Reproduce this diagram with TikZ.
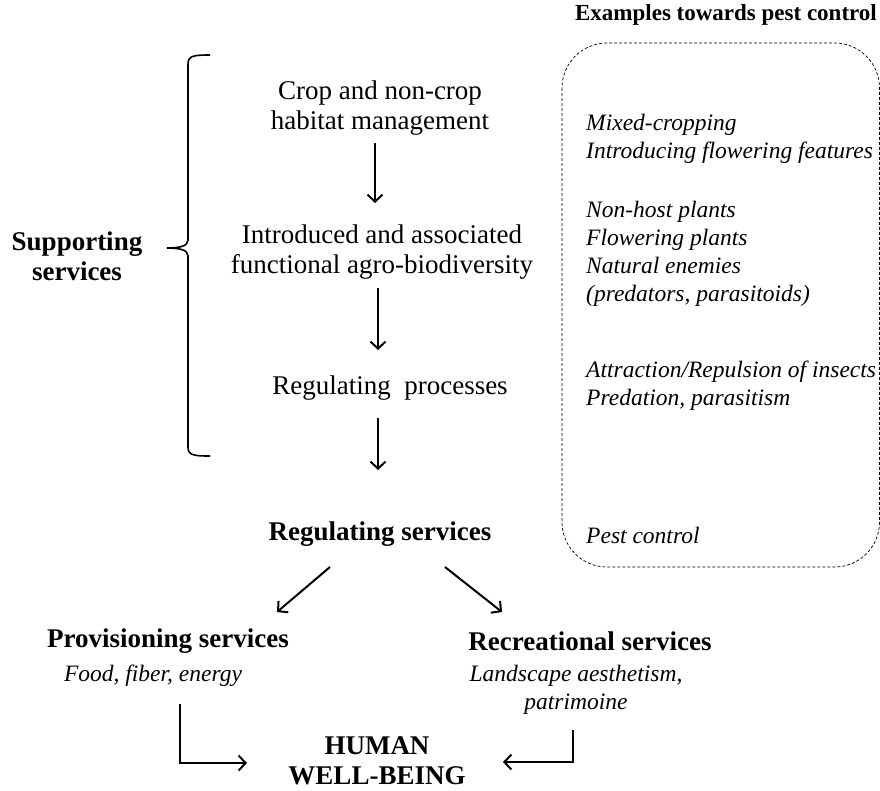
\documentclass[tikz,border=0pt]{standalone}
\usepackage{fontspec}
\setmainfont{Liberation Serif}
\usetikzlibrary{arrows.meta,calc}
\begin{document}
\begin{tikzpicture}[x=1pt,y=-1pt,
  txt/.style={font=\fontsize{27}{30}\selectfont, inner sep=0pt, align=center},
  btxt/.style={font=\fontsize{27}{30}\selectfont\bfseries, inner sep=0pt, align=center},
  htxt/.style={font=\fontsize{23}{28}\selectfont\bfseries, inner sep=0pt, align=center},
  ctxt/.style={font=\fontsize{23.5}{28}\selectfont\itshape, inner sep=0pt, align=center},
  itxt/.style={font=\fontsize{23.5}{28}\selectfont\itshape, inner sep=0pt, align=left, anchor=west},
  arr/.style={line width=2pt, -{Straight Barb[length=7pt,width=15pt,line width=2pt]}},
  bracestyle/.style={line width=1.6pt},
  dashbox/.style={line width=0.7pt, dash pattern=on 3pt off 2pt, rounded corners=45pt}]
\useasboundingbox (0,0) rectangle (880,790);
% center column
\node[txt] (crop) at (380,108) {Crop and non-crop\\habitat management};
\node[txt] (intro) at (382,252) {Introduced and associated\\functional agro-biodiversity};
\node[txt] (regp) at (390,388) {Regulating\hspace{0.25em} processes};
\node[btxt] (regs) at (380,534) {Regulating services};
\node[btxt] (supp) at (77,256) {Supporting\\services};
\node[btxt] (prov) at (168,641) {Provisioning services};
\node[ctxt] (food) at (153,676) {Food, fiber, energy};
\node[btxt] (recr) at (590,641) {Recreational services};
\node[ctxt] (land) at (576,690) {Landscape aesthetism,\\patrimoine};
\node[btxt] (human) at (377,761) {HUMAN\\WELL-BEING};
% right column
\node[htxt] (ex) at (726,15) {Examples towards pest control};
\draw[dashbox] (562,43) rectangle (879.5,567);
\node[itxt] (e1) at (586,139) {Mixed-cropping\\Introducing flowering features};
\node[itxt] (e2) at (586,253.5) {Non-host plants\\Flowering plants\\Natural enemies\\(predators, parasitoids)};
\node[itxt] (e3) at (586,386) {Attraction/Repulsion of insects\\Predation, parasitism};
\node[itxt] (e4) at (586,535) {Pest control};
% brace
\draw[bracestyle] (210,55) .. controls (193,55) and (188,56) .. (188,64) -- (188,240)
  .. controls (188,246) and (180,248) .. (167,248)
  .. controls (180,248) and (188,250) .. (188,256) -- (188,447)
  .. controls (188,455) and (193,456) .. (210,456);
% arrows
\draw[arr] ($(crop)+(-5,35)$) -- ($(intro)+(-7,-49)$);
\draw[arr] ($(intro)+(-4,36)$) -- ($(regp)+(-12,-38)$);
\draw[arr] ($(regp)+(-12,30)$) -- ($(regs)+(-2,-64)$);
\draw[arr] ($(regs)+(-50,33)$) -- ($(prov)+(109,-29)$);
\draw[arr] ($(regs)+(65,33)$) -- ($(recr)+(-88,-29)$);
\draw[arr] ($(food)+(27,28)$) |- ($(human)+(-130,2)$);
\draw[arr] ($(land)+(-3,40)$) |- ($(human)+(126,1)$);
\end{tikzpicture}
\end{document}
